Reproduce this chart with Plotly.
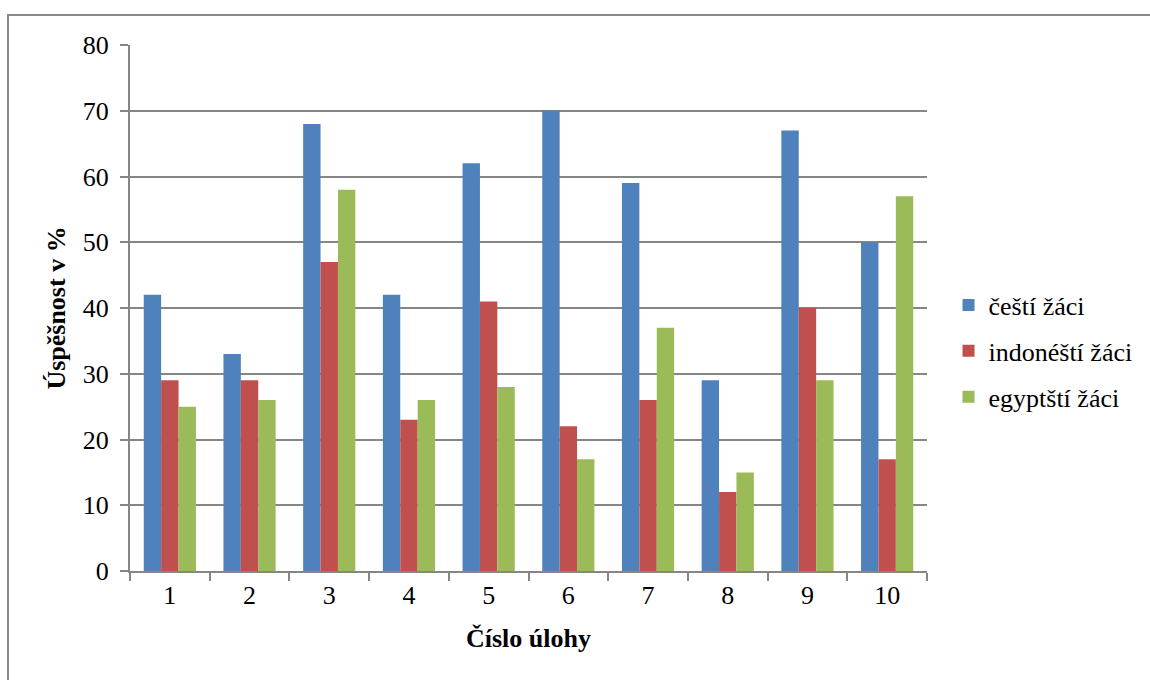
import plotly.graph_objects as go

# Task numbers and success rates (%) per student group
ulohy = ["1", "2", "3", "4", "5", "6", "7", "8", "9", "10"]
cesti = [42, 33, 68, 42, 62, 70, 59, 29, 67, 50]
indonesti = [29, 29, 47, 23, 41, 22, 26, 12, 40, 17]
egyptsti = [25, 26, 58, 26, 28, 17, 37, 15, 29, 57]

series = [
    ("čeští žáci", cesti, "#4F81BD"),
    ("indonéští žáci", indonesti, "#C0504D"),
    ("egyptští žáci", egyptsti, "#9BBB59"),
]

FONT = "Liberation Serif"
GRID = "#868686"

fig = go.Figure()
for i, (name, vals, color) in enumerate(series):
    fig.add_trace(go.Bar(
        x=ulohy, y=vals, name=name,
        marker=dict(color=color, line=dict(width=0)),
        legendgroup=f"g{i}",
    ))

fig.update_layout(
    width=1150, height=680,
    margin=dict(l=130, r=223, t=45, b=109),
    paper_bgcolor="white", plot_bgcolor="white",
    barmode="group", bargap=0.345, bargroupgap=0,
    font=dict(family=FONT, size=26, color="black"),
    showlegend=True,
    legend=dict(
        x=1.027, xanchor="left", y=0.418, yanchor="middle",
        font=dict(family=FONT, size=26, color="black"),
        traceorder="grouped", tracegroupgap=9,
        bgcolor="rgba(0,0,0,0)", borderwidth=0,
    ),
    xaxis=dict(
        type="category", tickson="boundaries", automargin=False,
        showline=True, linecolor=GRID, linewidth=2,
        ticks="outside", ticklen=8, tickwidth=2, tickcolor=GRID,
        showgrid=False, zeroline=False,
        tickfont=dict(family=FONT, size=26, color="black"),
        title=dict(text="<b>Číslo úlohy</b>", standoff=20,
                   font=dict(family=FONT, size=26, color="black")),
    ),
    yaxis=dict(
        range=[0, 80], dtick=10, automargin=False,
        showline=True, linecolor=GRID, linewidth=2,
        ticks="outside", ticklen=8, tickwidth=2, tickcolor=GRID,
        showgrid=True, gridcolor=GRID, gridwidth=2,
        zeroline=False,
        tickfont=dict(family=FONT, size=26, color="black"),
        ticklabelstandoff=6,
        title=dict(text="<b>Úspěšnost v %</b>", standoff=10,
                   font=dict(family=FONT, size=26, color="black")),
    ),
    shapes=[dict(
        type="rect", xref="paper", yref="paper",
        x0=-0.1531, y0=-0.6, x1=1.6, y1=1.057,
        line=dict(color="#8a8a8a", width=2), fillcolor="rgba(0,0,0,0)",
        layer="below",
    )],
)

fig.write_html("out.html")
